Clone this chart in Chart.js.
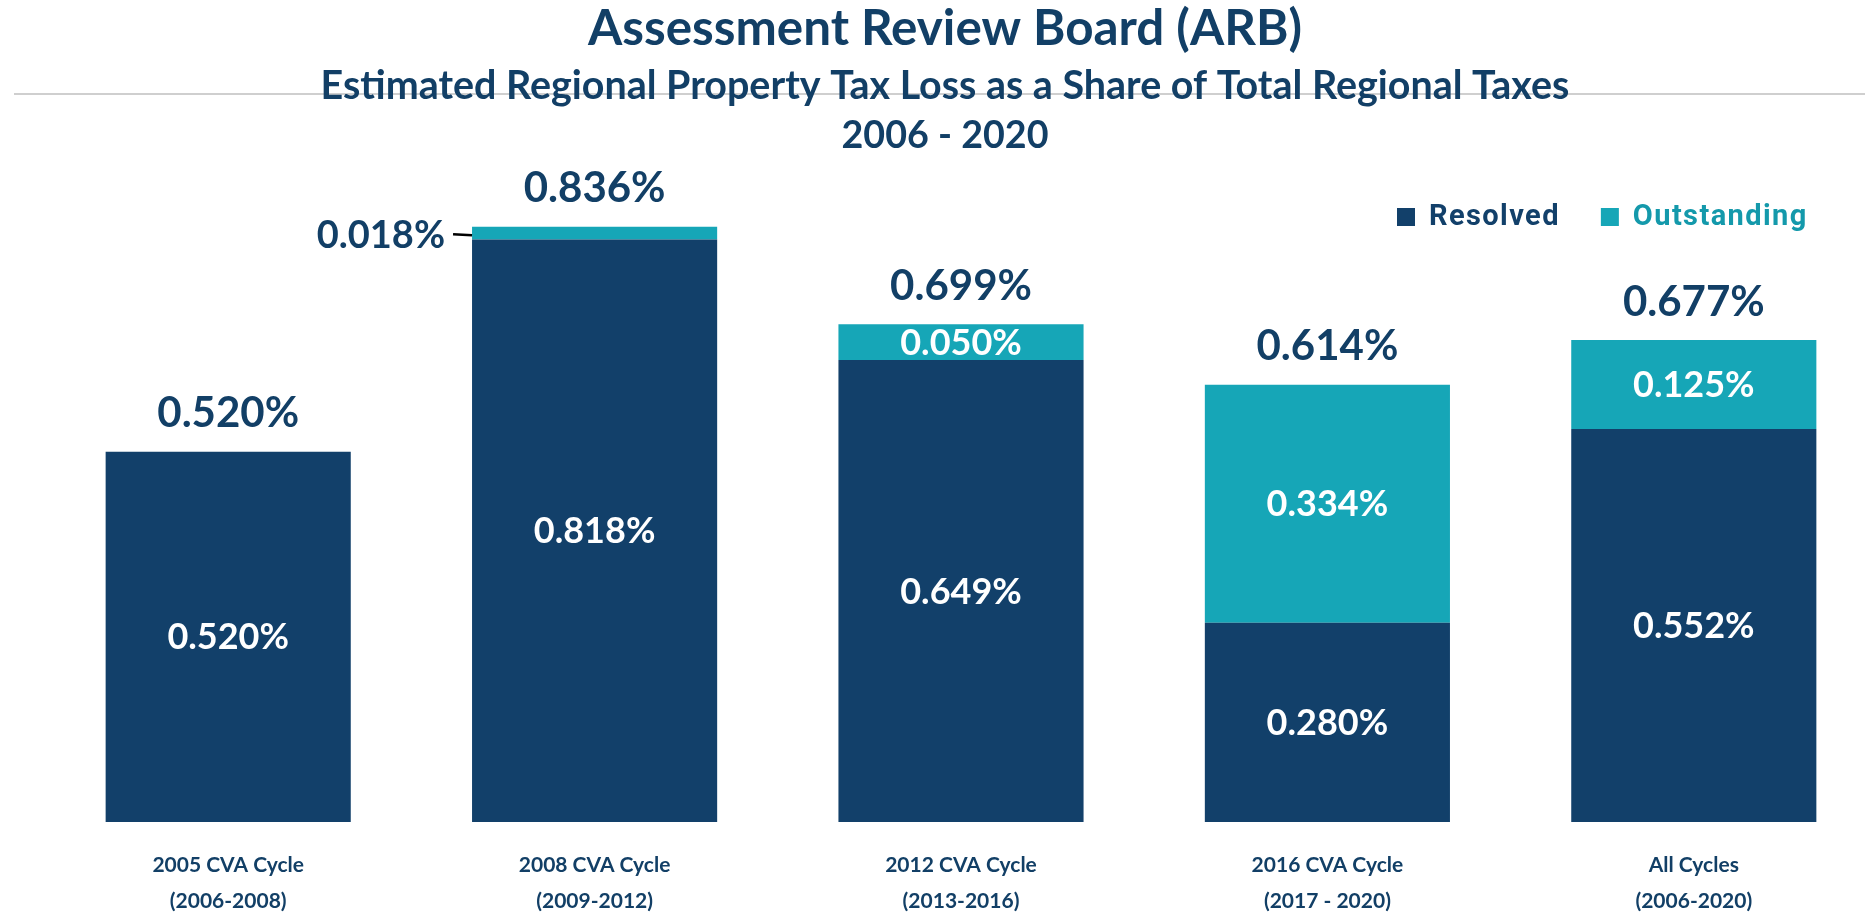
<!DOCTYPE html>
<html><head><meta charset="utf-8">
<script src="https://cdn.jsdelivr.net/npm/chart.js@4/dist/chart.umd.min.js"></script>
<style>
html,body{margin:0;padding:0;overflow:hidden;background:#fff;width:1865px;height:918px}
#wrap{position:absolute;left:0;top:0;width:1890px;height:918px}
</style></head>
<body><div id="wrap"><canvas id="c" width="1890" height="918"></canvas></div>
<script>
const titleText = 'Assessment Review Board (ARB)';
const subtitleText = 'Estimated Regional Property Tax Loss as a Share of Total Regional Taxes';
const yearText = '2006 - 2020';
const categories = [
  ['2005 CVA Cycle', '(2006-2008)'],
  ['2008 CVA Cycle', '(2009-2012)'],
  ['2012 CVA Cycle', '(2013-2016)'],
  ['2016 CVA Cycle', '(2017 - 2020)'],
  ['All Cycles', '(2006-2020)']
];
const seriesNames = ['Resolved', 'Outstanding'];
const resolved = [0.520, 0.818, 0.649, 0.280, 0.552];
const outstanding = [0, 0.018, 0.050, 0.334, 0.125];

const NAVY = '#12406A', TEAL = '#16A6B7', TEXT = '#123F66';
const fmt = v => v.toFixed(3) + '%';

function fitFont(ctx, text, target, family) {
  ctx.font = 'bold 100px ' + family;
  const w = ctx.measureText(text).width;
  return 'bold ' + (100 * target / w).toFixed(2) + 'px ' + family;
}

const headerPlugin = {
  id: 'header',
  afterDraw(chart) {
    const ctx = chart.ctx;
    ctx.save();
    ctx.strokeStyle = '#BFBFBF'; ctx.lineWidth = 1.5;
    ctx.beginPath(); ctx.moveTo(14, 94); ctx.lineTo(1890, 94); ctx.stroke();
    ctx.fillStyle = TEXT; ctx.textAlign = 'center'; ctx.textBaseline = 'alphabetic';
    const cx = 945;
    ctx.font = fitFont(ctx, titleText, 714, 'Lato'); ctx.fillText(titleText, cx, 45);
    ctx.font = fitFont(ctx, subtitleText, 1249, 'Lato'); ctx.fillText(subtitleText, cx, 99);
    ctx.font = fitFont(ctx, yearText, 207, 'Lato'); ctx.fillText(yearText, cx, 148);
    // legend
    ctx.textAlign = 'left'; ctx.textBaseline = 'middle';
    ctx.font = 'bold 29px Roboto';
    try { ctx.letterSpacing = '1.4px'; } catch (e) {}
    let x = 1397; const ly = 217;
    chart.data.datasets.forEach(ds => {
      ctx.fillStyle = ds.backgroundColor;
      ctx.fillRect(x, ly - 9, 18, 18);
      x += 32;
      ctx.fillStyle = ds.legendColor;
      ctx.fillText(ds.label, x, ly + 1);
      x += ctx.measureText(ds.label).width + 41;
    });
    ctx.restore();
  }
};

const labelPlugin = {
  id: 'barLabels',
  afterDatasetsDraw(chart) {
    const ctx = chart.ctx;
    ctx.save();
    ctx.textBaseline = 'middle';
    const tops = [];
    chart.data.datasets.forEach((ds, di) => {
      const meta = chart.getDatasetMeta(di);
      meta.data.forEach((bar, i) => {
        const v = ds.data[i];
        if (!v) return;
        const top = Math.min(bar.y, bar.base), bot = Math.max(bar.y, bar.base);
        tops[i] = tops[i] === undefined ? top : Math.min(tops[i], top);
        const cy = (top + bot) / 2;
        if (bot - top >= 30) {
          ctx.fillStyle = '#FFFFFF'; ctx.font = 'bold 36px Lato'; ctx.textAlign = 'center';
          ctx.fillText(fmt(v), bar.x, cy + 1);
        } else {
          const left = bar.x - bar.width / 2;
          ctx.strokeStyle = '#000'; ctx.lineWidth = 2.5;
          ctx.beginPath(); ctx.moveTo(left - 19, cy + 1); ctx.lineTo(left, cy + 2); ctx.stroke();
          ctx.fillStyle = TEXT; ctx.font = 'bold 38px Lato'; ctx.textAlign = 'right';
          ctx.fillText(fmt(v), left - 27, cy + 3);
        }
      });
    });
    ctx.fillStyle = TEXT; ctx.font = 'bold 42px Lato'; ctx.textAlign = 'center';
    const meta0 = chart.getDatasetMeta(0);
    meta0.data.forEach((bar, i) => {
      const total = Math.round((resolved[i] + outstanding[i]) * 1000) / 1000;
      ctx.fillText(fmt(total), bar.x, tops[i] - 38);
    });
    ctx.restore();
  }
};

new Chart(document.getElementById('c'), {
  type: 'bar',
  data: {
    labels: categories,
    datasets: [
      { label: seriesNames[0], data: resolved, backgroundColor: NAVY, legendColor: NAVY },
      { label: seriesNames[1], data: outstanding, backgroundColor: TEAL, legendColor: '#1499AB' }
    ]
  },
  options: {
    responsive: false,
    devicePixelRatio: 1,
    animation: false,
    layout: { padding: { top: 110, left: 45, right: 13, bottom: 0 } },
    datasets: { bar: { barPercentage: 0.669, categoryPercentage: 1, borderWidth: 0 } },
    plugins: { legend: { display: false }, title: { display: false }, tooltip: { enabled: false } },
    scales: {
      x: {
        stacked: true,
        grid: { display: false, drawTicks: false },
        border: { display: false },
        ticks: { color: TEXT, font: { family: 'Lato', weight: 'bold', size: 21, lineHeight: 36 / 21 }, padding: 25, maxRotation: 0 },
        afterFit(scale) { scale.height = 96; }
      },
      y: { stacked: true, display: false, min: 0, max: 1.0 }
    }
  },
  plugins: [labelPlugin, headerPlugin]
});
</script>
</body></html>
